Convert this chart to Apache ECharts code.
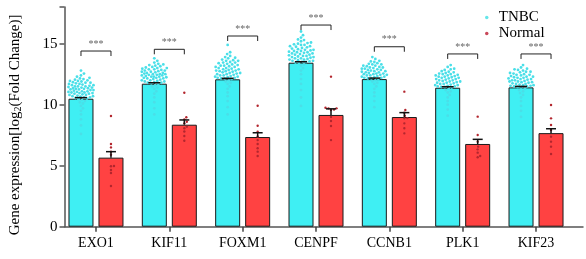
<!DOCTYPE html>
<html><head><meta charset="utf-8">
<script src="https://cdn.jsdelivr.net/npm/echarts@6/dist/echarts.min.js"></script>
<style>html,body{margin:0;padding:0;background:#fff}#c{width:586px;height:259px}</style>
</head><body><div id="c"></div>
<script>
const categories = ['EXO1','KIF11','FOXM1','CENPF','CCNB1','PLK1','KIF23'];
const seriesNames = ['TNBC','Normal'];
const tnbcMean = [10.49, 11.72, 12.08, 13.44, 12.10, 11.39, 11.42];
const tnbcSem = [0.09, 0.08, 0.08, 0.08, 0.08, 0.08, 0.08];
const normalMean = [5.66, 8.36, 7.35, 9.16, 8.99, 6.78, 7.67];
const normalSem = [0.49, 0.39, 0.35, 0.50, 0.36, 0.38, 0.36];
const bracketY = [14.4, 14.54, 15.63, 16.53, 14.75, 14.16, 14.16];
const sigLabel = ['***','***','***','***','***','***','***'];
const yTicks = [0, 5, 10, 15];
const tnbcPoints = [
  [12.8,12.55,12.4,12.3,12.2,12.15,12.05,12.0,11.95,11.9,11.85,11.8,11.75,11.7,11.65,11.6,11.55,11.5,11.5,11.45,11.4,11.35,11.3,11.3,11.25,11.2,11.15,11.1,11.1,11.05,11.0,10.95,10.9,10.9,10.85,10.8,10.75,10.7,10.65,10.6,10.55,10.5,10.45,10.4,10.3,10.2,10.1,9.9,9.7,9.5,9.2,8.8,8.3,7.6,
   12.1,11.95,11.8,11.7,11.6,11.5,11.4,11.35,11.25,11.2,11.05,11.0,10.95,10.8,10.7,10.6],
  [13.8,13.6,13.45,13.35,13.25,13.2,13.1,13.05,13.0,12.95,12.9,12.85,12.8,12.75,12.7,12.65,12.6,12.55,12.5,12.5,12.45,12.4,12.35,12.3,12.3,12.25,12.2,12.15,12.1,12.05,12.0,11.95,11.9,11.85,11.8,11.75,11.7,11.6,11.5,11.4,11.3,11.1,10.9,10.6,10.2,9.7,9.2,
   13.3,13.15,13.0,12.9,12.8,12.7,12.6,12.5,12.45,12.4,12.3,12.2,12.15,12.0,11.9,11.8],
  [14.9,14.3,14.15,14.0,13.9,13.8,13.7,13.65,13.6,13.5,13.45,13.4,13.3,13.25,13.2,13.15,13.1,13.0,12.95,12.9,12.85,12.8,12.75,12.7,12.65,12.6,12.55,12.5,12.45,12.4,12.35,12.3,12.25,12.2,12.15,12.1,12.0,11.9,11.8,11.7,11.5,11.3,11.0,10.7,10.3,9.8,9.2,
   13.85,13.6,13.45,13.35,13.2,13.1,13.0,12.9,12.8,12.75,12.6,12.5,12.4,12.3,12.2,12.15],
  [16.0,15.7,15.5,15.35,15.2,15.1,15.0,14.95,14.9,14.8,14.75,14.7,14.6,14.55,14.5,14.45,14.4,14.35,14.3,14.25,14.2,14.15,14.1,14.05,14.0,13.95,13.9,13.85,13.8,13.75,13.7,13.65,13.6,13.55,13.5,13.45,13.4,13.3,13.2,13.0,12.8,12.5,12.1,11.7,11.2,10.6,9.9,
   15.3,15.05,14.9,14.8,14.65,14.5,14.4,14.3,14.2,14.1,14.0,13.9,13.8,13.7,13.6,13.5],
  [13.9,13.75,13.6,13.5,13.4,13.35,13.3,13.2,13.15,13.1,13.05,13.0,12.95,12.9,12.85,12.8,12.75,12.7,12.65,12.6,12.55,12.5,12.5,12.45,12.4,12.35,12.3,12.25,12.2,12.15,12.1,12.0,11.9,11.8,11.7,11.5,11.3,11.0,10.7,10.3,9.8,
   13.55,13.3,13.2,13.05,12.95,12.85,12.75,12.65,12.55,12.45,12.4,12.3,12.2,12.15],
  [13.25,13.1,12.95,12.85,12.75,12.7,12.6,12.55,12.5,12.45,12.4,12.35,12.3,12.25,12.2,12.15,12.1,12.05,12.0,11.95,11.9,11.85,11.8,11.75,11.7,11.65,11.6,11.55,11.5,11.45,11.4,11.3,11.2,11.1,11.0,10.8,10.6,10.3,10.0,9.6,9.1,
   12.9,12.65,12.5,12.4,12.3,12.2,12.1,12.0,11.9,11.8,11.7,11.6,11.5,11.45],
  [13.25,13.05,12.95,12.85,12.8,12.7,12.65,12.6,12.5,12.45,12.4,12.35,12.3,12.25,12.2,12.15,12.1,12.05,12.0,11.95,11.9,11.85,11.8,11.75,11.7,11.65,11.6,11.55,11.5,11.45,11.4,11.3,11.2,11.1,10.95,10.8,10.6,10.3,9.9,9.5,9.0,
   12.9,12.7,12.55,12.45,12.3,12.2,12.1,12.0,11.9,11.85,11.7,11.6,11.55,11.5]
];
const normalPoints = [
  [9.07,6.78,6.5,6.15,5.9,4.97,4.95,4.65,4.4,3.33],
  [10.98,8.97,8.8,8.6,8.47,8.2,8.07,7.8,7.43,7.05],
  [9.92,8.28,7.79,7.4,7.1,6.78,6.43,6.15,5.8],
  [12.3,9.75,9.7,9.7,9.6,9.56,9.0,8.66,8.25,7.1],
  [11.07,9.56,9.35,9.1,8.9,8.88,8.47,8.07,7.65],
  [9.02,7.52,6.97,6.56,6.34,6.07,5.8,5.69],
  [9.98,8.88,8.34,7.93,7.38,6.97,6.56,5.96]
];

const FONT = '"Liberation Serif","Times New Roman",serif';
const BAR_W = 25, BAR_GAP = 5;
const OFF = (BAR_W + BAR_GAP) / 2;
const CYAN = '#3FEFF3', RED = '#FF4242';

function swarm(ys, r, maxW) {
  const idx = ys.map((y, i) => i).sort((a, b) => ys[b] - ys[a]);
  const placed = [], xs = new Array(ys.length);
  const d2 = (2 * r) * (2 * r);
  for (const i of idx) {
    const y = ys[i];
    let bestDx = 0, bestScore = -1;
    for (let k = 0; k < 200; k++) {
      const dx = k === 0 ? 0 : (k % 2 === 1 ? 1 : -1) * Math.ceil(k / 2) * 0.5;
      if (Math.abs(dx) > maxW) break;
      let minD = Infinity;
      for (const p of placed) {
        const dd = (dx - p[0]) ** 2 + (y - p[1]) ** 2;
        if (dd < minD) minD = dd;
      }
      if (minD >= d2) { bestDx = dx; bestScore = Infinity; break; }
      if (minD > bestScore) { bestScore = minD; bestDx = dx; }
    }
    xs[i] = bestDx;
    placed.push([bestDx, y]);
  }
  return xs;
}

function pointsSeries(list, offSign, r, color, maxW) {
  return {
    type: 'custom', xAxisIndex: 0, yAxisIndex: 0, z: 5,
    data: categories.map((c, i) => [i]),
    renderItem: function (params, api) {
      const i = api.value(0);
      const vals = list[i];
      const base = api.coord([i, 0]);
      const cx = base[0] + offSign * OFF;
      const ys = vals.map(v => api.coord([i, v])[1]);
      const xs = swarm(ys, r + 0.15, maxW);
      return {
        type: 'group',
        children: ys.map((y, k) => ({
          type: 'circle',
          shape: { cx: cx + xs[k], cy: y, r: r },
          style: { fill: color }
        }))
      };
    }
  };
}

function errSeries(mean, sem, offSign, capW) {
  return {
    type: 'custom', xAxisIndex: 0, yAxisIndex: 0, z: 6,
    data: categories.map((c, i) => [i, mean[i], sem[i]]),
    renderItem: function (params, api) {
      const i = api.value(0);
      const p0 = api.coord([i, api.value(1)]);
      const p1 = api.coord([i, api.value(1) + api.value(2)]);
      const cx = p0[0] + offSign * OFF;
      return {
        type: 'group',
        children: [
          { type: 'line', shape: { x1: cx, y1: p0[1], x2: cx, y2: p1[1] }, style: { stroke: '#111', lineWidth: 1.5 } },
          { type: 'line', shape: { x1: cx - capW / 2, y1: p1[1], x2: cx + capW / 2, y2: p1[1] }, style: { stroke: '#111', lineWidth: 1.5 } }
        ]
      };
    }
  };
}

const bracketSeries = {
  type: 'custom', xAxisIndex: 0, yAxisIndex: 0, z: 6,
  data: categories.map((c, i) => [i, bracketY[i]]),
  renderItem: function (params, api) {
    const i = api.value(0);
    const p = api.coord([i, api.value(1)]);
    const x1 = p[0] - OFF, x2 = p[0] + OFF, y = p[1];
    return {
      type: 'group',
      children: [
        { type: 'polyline', shape: { points: [[x1, y + 5], [x1, y], [x2, y], [x2, y + 5]] }, style: { stroke: '#222', lineWidth: 1, fill: null } },
        { type: 'text', x: p[0], y: y - 2, style: { text: sigLabel[i], fill: '#666', font: '10px ' + FONT, align: 'center', verticalAlign: 'bottom' } }
      ]
    };
  }
};

const chart = echarts.init(document.getElementById('c'), null, { renderer: 'canvas' });
chart.setOption({
  animation: false,
  backgroundColor: '#fff',
  textStyle: { fontFamily: FONT },
  legend: {
    orient: 'vertical', left: 480, top: 5, itemGap: 1,
    itemWidth: 14, itemHeight: 3.5, icon: 'circle',
    textStyle: { fontFamily: FONT, fontSize: 15, color: '#000' },
    data: [
      { name: 'TNBC', itemStyle: { color: '#66E6EA', borderWidth: 0 } },
      { name: 'Normal', itemStyle: { color: '#C9485A', borderWidth: 0 } }
    ]
  },
  grid: [
    { left: 59.3, right: 13.3, top: 7.1, bottom: 32.3 },
    { left: 56, right: 3, top: 7.1, bottom: 32.3 }
  ],
  xAxis: [
    { type: 'category', gridIndex: 0, data: categories,
      axisLine: { show: false },
      axisTick: { show: true, alignWithLabel: true, length: 5, lineStyle: { color: '#444', width: 1.5 } },
      axisLabel: { color: '#000', fontSize: 14, fontFamily: FONT, margin: 10 } },
    { type: 'value', gridIndex: 1, min: 0, max: 1,
      axisLine: { show: true, lineStyle: { color: '#555', width: 1.5 } },
      axisTick: { show: false }, axisLabel: { show: false }, splitLine: { show: false } }
  ],
  yAxis: [
    { type: 'value', gridIndex: 0, min: 0, max: 18, show: false, splitLine: { show: false } },
    { type: 'value', gridIndex: 1, min: 0, max: 18, interval: 5,
      axisLine: { show: true, lineStyle: { color: '#555', width: 1.5 } },
      axisTick: { show: true, length: 5, lineStyle: { color: '#555', width: 1.5 } },
      axisLabel: { color: '#000', fontSize: 15, fontFamily: FONT, margin: 7,
        formatter: v => (yTicks.indexOf(v) >= 0 ? String(v) : '') },
      splitLine: { show: false },
      name: '{a|Gene expression[log}{s|2}{a|(Fold Change)]}',
      nameLocation: 'middle', nameGap: 41, nameRotate: 90,
      nameTextStyle: { padding: [0, 16, 0, 0], rich: {
        a: { fontFamily: FONT, fontSize: 15, color: '#000' },
        s: { fontFamily: FONT, fontSize: 10, color: '#000', verticalAlign: 'bottom', padding: [6, 0, 0, 0] }
      } } }
  ],
  series: [
    { name: 'TNBC', type: 'bar', xAxisIndex: 0, yAxisIndex: 0, data: tnbcMean,
      barWidth: BAR_W, barGap: (BAR_GAP / BAR_W * 100) + '%',
      itemStyle: { color: CYAN, borderColor: '#1a1a1a', borderWidth: 1 } },
    { name: 'Normal', type: 'bar', xAxisIndex: 0, yAxisIndex: 0, data: normalMean,
      barWidth: BAR_W,
      itemStyle: { color: RED, borderColor: '#1a1a1a', borderWidth: 1 } },
    pointsSeries(tnbcPoints, -1, 1.4, '#4ADFE8', 12.5),
    pointsSeries(normalPoints, 1, 1.2, '#B3262E', 8),
    errSeries(tnbcMean, tnbcSem, -1, 12),
    errSeries(normalMean, normalSem, 1, 10),
    bracketSeries
  ]
});
</script></body></html>
